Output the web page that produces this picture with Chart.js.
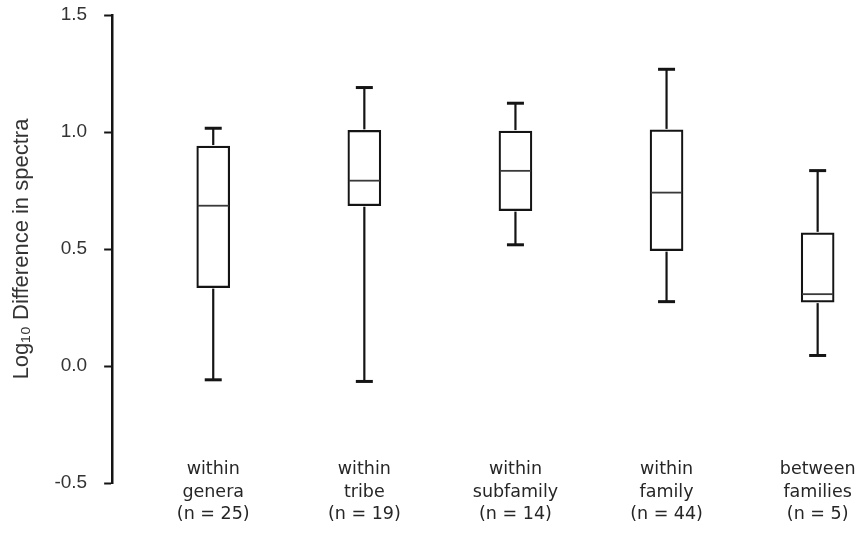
<!DOCTYPE html>
<html>
<head>
<meta charset="utf-8">
<title>Log10 difference in spectra by taxonomic level</title>
<script src="https://cdn.jsdelivr.net/npm/chart.js@4/dist/chart.umd.min.js"></script>
<style>
  html, body { margin: 0; padding: 0; background: #ffffff; }
  #wrap { width: 863px; height: 550px; }
</style>
</head>
<body>
<div id="wrap"><canvas id="chart" width="863" height="550"></canvas></div>
<script>
// Taxonomic comparison groups (multi-line axis labels)
const groupLabels = [
  ['within', 'genera', '(n = 25)'],
  ['within', 'tribe', '(n = 19)'],
  ['within', 'subfamily', '(n = 14)'],
  ['within', 'family', '(n = 44)'],
  ['between', 'families', '(n = 5)']
];

// Five-number summaries, log10 difference in spectra
const whiskerLow  = [-0.059, -0.066, 0.518, 0.275, 0.045];
const quartile1   = [0.335, 0.685, 0.664, 0.493, 0.273];
const medians     = [0.685, 0.792, 0.834, 0.741, 0.307];
const quartile3   = [0.940, 1.007, 1.004, 1.009, 0.569];
const whiskerHigh = [1.016, 1.190, 1.123, 1.268, 0.835];

// Y-axis ticks
const yTicks = [-0.5, 0.0, 0.5, 1.0, 1.5];

const ink = '#141414';
const textGrey = '#333333';

// Whiskers, caps and median lines, placed with the chart's own scales
const boxDecor = {
  id: 'boxDecor',
  afterDatasetsDraw(chart) {
    const { ctx, scales: { y } } = chart;
    const meta = chart.getDatasetMeta(0);
    const seg = (x1, y1, x2, y2) => {
      ctx.beginPath(); ctx.moveTo(x1, y1); ctx.lineTo(x2, y2); ctx.stroke();
    };
    ctx.save();
    ctx.lineCap = 'butt';
    meta.data.forEach((bar, i) => {
      const cx = bar.x;
      const half = bar.width / 2;
      const capHalf = 8.5;
      const yHi = y.getPixelForValue(whiskerHigh[i]);
      const yQ3 = y.getPixelForValue(quartile3[i]);
      const yQ1 = y.getPixelForValue(quartile1[i]);
      const yLo = y.getPixelForValue(whiskerLow[i]);
      const yMed = y.getPixelForValue(medians[i]);

      ctx.strokeStyle = ink;
      ctx.lineWidth = 2.2;
      seg(cx, yHi, cx, yQ3 - 1);
      seg(cx, yQ1 + 1, cx, yLo);

      ctx.lineWidth = 3;
      seg(cx - capHalf, yHi, cx + capHalf, yHi);
      seg(cx - capHalf, yLo, cx + capHalf, yLo);

      ctx.strokeStyle = '#3a3a3a';
      ctx.lineWidth = 1.8;
      seg(cx - half + 1, yMed, cx + half - 1, yMed);
    });
    ctx.restore();
  }
};

const boxData = groupLabels.map((_, i) => ({ x: i + 1, y: [quartile1[i], quartile3[i]] }));

new Chart(document.getElementById('chart'), {
  type: 'bar',
  data: {
    datasets: [{
      data: boxData,
      backgroundColor: '#ffffff',
      borderColor: ink,
      borderWidth: 2.2,
      borderSkipped: false,
      barThickness: 33
    }]
  },
  plugins: [boxDecor],
  options: {
    responsive: false,
    devicePixelRatio: 1,
    animation: false,
    layout: { padding: { left: 0, right: 5, top: 15, bottom: 67 } },
    plugins: {
      legend: { display: false },
      tooltip: { enabled: false }
    },
    scales: {
      x: {
        type: 'linear',
        axis: 'x',
        position: { y: -0.5 },
        offset: false,
        bounds: 'data',
        min: 0.331,
        max: 5.267,
        grid: { display: false, drawTicks: false },
        border: { display: false },
        afterBuildTicks(scale) {
          scale.ticks = groupLabels.map((_, i) => ({ value: i + 1 }));
        },
        ticks: {
          autoSkip: false,
          maxRotation: 0,
          padding: -25,
          color: '#262626',
          font: { family: "'DejaVu Sans', sans-serif", size: 17.5, lineHeight: 1.3 },
          callback: (value) => groupLabels[Math.round(value) - 1] || ''
        }
      },
      y: {
        type: 'linear',
        min: -0.5,
        max: 1.5,
        afterBuildTicks(scale) {
          scale.ticks = yTicks.map(v => ({ value: v }));
        },
        // the end labels may overhang the axis; let the layout padding govern
        afterFit(scale) {
          scale.paddingTop = 0;
          scale.paddingBottom = 0;
        },
        grid: {
          display: true,
          drawOnChartArea: false,
          drawTicks: true,
          tickLength: 8,
          tickWidth: 2,
          tickColor: ink,
          color: ink
        },
        border: { display: true, color: ink, width: 2.5 },
        ticks: {
          padding: 17,
          color: textGrey,
          font: { family: "'Liberation Sans', Arial, sans-serif", size: 19 },
          callback: (value) => Number(value).toFixed(1)
        },
        title: {
          display: true,
          text: 'Log\u2081\u2080 Difference in spectra',
          color: textGrey,
          font: { family: "'Liberation Sans', Arial, sans-serif", size: 22 },
          padding: { top: 9, bottom: 2 }
        }
      }
    }
  }
});
</script>
</body>
</html>
